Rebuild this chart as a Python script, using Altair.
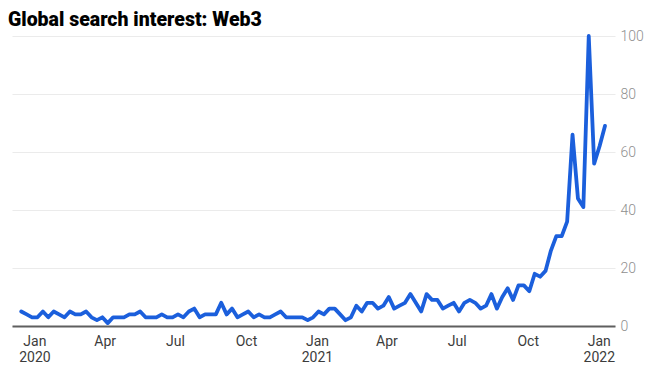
import altair as alt
import pandas as pd

title_text = "Global search interest: Web3"

start_week = "2019-12-15"
n_weeks = 109
values = [
    5, 4, 3, 3, 5, 3, 5, 4, 3, 5,
    4, 4, 5, 3, 2, 3, 1, 3, 3, 3,
    4, 4, 5, 3, 3, 3, 4, 3, 3, 4,
    3, 5, 6, 3, 4, 4, 4, 8, 4, 6,
    3, 4, 5, 3, 4, 3, 3, 4, 5, 3,
    3, 3, 3, 2, 3, 5, 4, 6, 6, 4,
    2, 3, 7, 5, 8, 8, 6, 7, 10, 6,
    7, 8, 11, 8, 5, 11, 9, 9, 6, 7,
    8, 5, 8, 9, 8, 6, 7, 11, 6, 10,
    13, 9, 14, 14, 12, 18, 17, 19, 26, 31,
    31, 36, 66, 44, 41, 100, 56, 62, 69,
]
dates = pd.date_range(start_week, periods=n_weeks, freq="7D").strftime("%Y-%m-%d").tolist()

tick_dates = ["2020-01-01", "2020-04-01", "2020-07-01", "2020-10-01",
              "2021-01-01", "2021-04-01", "2021-07-01", "2021-10-01", "2022-01-01"]
y_ticks = [0, 20, 40, 60, 80, 100]
x_domain = ["2019-12-03", "2022-01-22"]


def ms(d):
    return int(pd.Timestamp(d, tz="UTC").timestamp() * 1000)


df = pd.DataFrame({"date": dates, "value": values})

base = alt.Chart(df)

line = base.mark_line(color="#1b5fdc", strokeWidth=3.8, strokeJoin="round", strokeCap="round").encode(
    x=alt.X(
        "date:T",
        scale=alt.Scale(type="utc", domain=[ms(d) for d in x_domain]),
        axis=alt.Axis(
            values=[ms(d) for d in tick_dates],
            labelExpr="utcFormat(datum.value, '%m') == '01' ? [utcFormat(datum.value, '%b'), utcFormat(datum.value, '%Y')] : utcFormat(datum.value, '%b')",
            title=None,
            ticks=False,
            grid=False,
            domainColor="#5f5f5f",
            domainWidth=2,
            labelColor="#3c3c3c",
            labelFont="Roboto",
            labelFontSize=14,
            labelPadding=8,
            labelLineHeight=16,
            labelAlign="center",
            labelFlush=False,
            labelOverlap=False,
        ),
    ),
    y=alt.Y(
        "value:Q",
        scale=alt.Scale(domain=[0, 100], nice=False),
        axis=alt.Axis(
            orient="right",
            values=y_ticks,
            title=None,
            ticks=False,
            domain=False,
            grid=True,
            gridColor="#ebebeb",
            gridWidth=1,
            labelColor="#8f8f8f",
            labelFont="Roboto",
            labelFontSize=14,
            labelFontWeight=300,
            labelPadding=5,
        ),
    ),
)

title = alt.Chart(pd.DataFrame({"t": [title_text]})).mark_text(
    align="left", baseline="alphabetic", font="Roboto", fontSize=19.5, fontWeight=900, color="#000000"
).encode(
    x=alt.value(-4),
    y=alt.value(-10),
    text="t:N",
)

chart = alt.layer(line, title).properties(
    width=603,
    height=290,
    autosize=alt.AutoSizeParams(type="none"),
    padding={"left": 4, "top": 28, "right": 34, "bottom": 40},
).configure_view(stroke=None)

chart.save("out.html", embed_options={"renderer": "svg", "actions": False})
